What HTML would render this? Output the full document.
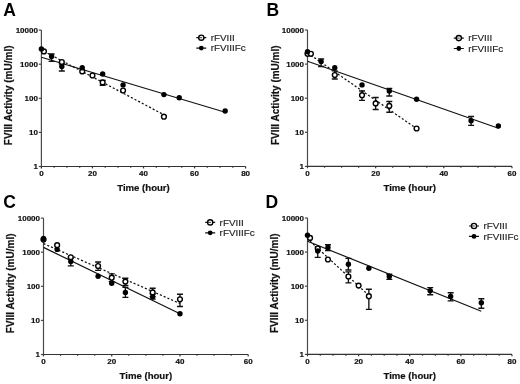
<!DOCTYPE html>
<html><head><meta charset="utf-8"><style>
html,body{margin:0;padding:0;background:#fff;width:520px;height:384px;overflow:hidden}
svg{display:block;filter:blur(0.3px)}
text{font-family:"Liberation Sans",sans-serif;fill:#111}
.pl{font-size:17.5px;font-weight:bold;fill:#000}
.tk{font-size:8.0px;font-weight:bold;stroke:#111;stroke-width:0.2px}
.tt{font-size:9.6px;font-weight:bold;stroke:#111;stroke-width:0.2px}
.at{font-size:10px;font-weight:bold;stroke:#111;stroke-width:0.2px}
.lg{font-size:9.9px;fill:#222;stroke:#222;stroke-width:0.15px}
.ax{stroke:#333;stroke-width:1.2;fill:none}
.ay{stroke:#4a4a4a;stroke-width:1.2;fill:none}
.ln{stroke:#111;stroke-width:1.2;fill:none}
.dl{stroke:#111;stroke-width:1.25;fill:none;stroke-dasharray:2.1 2.0}
.eb{stroke:#111;stroke-width:1.35;fill:none}
.op{fill:#fff;stroke:#000;stroke-width:1.4}
.fl{fill:#000}
</style></head><body>
<svg width="520" height="384" viewBox="0 0 520 384">
<text x="3.3" y="15.5" class="pl">A</text>
<path d="M41.4 30.10V166.5" class="ay"/>
<path d="M40.8 166.5H245.6" class="ax"/>
<path d="M38.8 166.50H41.4" class="ay"/>
<text x="37.9" y="169.40" class="tk" text-anchor="end">1</text>
<path d="M38.8 132.40H41.4" class="ay"/>
<text x="37.9" y="135.30" class="tk" text-anchor="end">10</text>
<path d="M38.8 98.30H41.4" class="ay"/>
<text x="37.9" y="101.20" class="tk" text-anchor="end">100</text>
<path d="M38.8 64.20H41.4" class="ay"/>
<text x="37.9" y="67.10" class="tk" text-anchor="end">1000</text>
<path d="M38.8 30.10H41.4" class="ay"/>
<text x="37.9" y="33.00" class="tk" text-anchor="end">10000</text>
<path d="M41.40 166.5v1.9" class="ax"/>
<text x="41.40" y="176.40" class="tk" text-anchor="middle">0</text>
<path d="M54.16 166.5v1.3" class="ax"/>
<path d="M66.92 166.5v1.3" class="ax"/>
<path d="M79.69 166.5v1.3" class="ax"/>
<path d="M92.45 166.5v1.9" class="ax"/>
<text x="92.45" y="176.40" class="tk" text-anchor="middle">20</text>
<path d="M105.21 166.5v1.3" class="ax"/>
<path d="M117.97 166.5v1.3" class="ax"/>
<path d="M130.74 166.5v1.3" class="ax"/>
<path d="M143.50 166.5v1.9" class="ax"/>
<text x="143.50" y="176.40" class="tk" text-anchor="middle">40</text>
<path d="M156.26 166.5v1.3" class="ax"/>
<path d="M169.02 166.5v1.3" class="ax"/>
<path d="M181.79 166.5v1.3" class="ax"/>
<path d="M194.55 166.5v1.9" class="ax"/>
<text x="194.55" y="176.40" class="tk" text-anchor="middle">60</text>
<path d="M207.31 166.5v1.3" class="ax"/>
<path d="M220.07 166.5v1.3" class="ax"/>
<path d="M232.84 166.5v1.3" class="ax"/>
<path d="M245.60 166.5v1.9" class="ax"/>
<text x="245.60" y="176.40" class="tk" text-anchor="middle">80</text>
<text x="143.50" y="190.70" class="tt" text-anchor="middle">Time (hour)</text>
<text transform="translate(12.3 95.30) rotate(-90)" class="at" text-anchor="middle">FVIII Activity (mU/ml)</text>
<path d="M196.3 37.7h10M196.3 48.1h10" class="ln"/>
<circle cx="201.3" cy="37.7" r="2.6" class="op"/>
<path d="M199.3 37.7h2.8" stroke="#222" stroke-width="0.9"/>
<circle cx="201.3" cy="48.1" r="2.4000000000000004" class="fl"/>
<text x="210.70000000000002" y="40.800000000000004" class="lg">rFVIII</text>
<text x="210.70000000000002" y="51.2" class="lg">rFVIIIFc</text>
<path d="M41.4 57.3L225.18 112.2" class="ln"/>
<path d="M43.95 51.3L163.92 114.8" class="dl"/>
<path d="M51.61 54V61.4M48.61 54h6.0M48.61 61.4h6.0" class="eb"/>
<path d="M61.82 64V71M58.82 64h6.0M58.82 71h6.0" class="eb"/>
<path d="M102.66 80.3V85.2M99.66 80.3h6.0M99.66 85.2h6.0" class="eb"/>
<circle cx="43.95" cy="51.4" r="2.4" class="op"/>
<circle cx="61.82" cy="62.0" r="2.4" class="op"/>
<circle cx="82.24" cy="71.4" r="2.4" class="op"/>
<circle cx="92.45" cy="75.5" r="2.4" class="op"/>
<circle cx="102.66" cy="82.4" r="2.4" class="op"/>
<circle cx="123.08" cy="90.5" r="2.4" class="op"/>
<circle cx="163.92" cy="116.7" r="2.4" class="op"/>
<circle cx="41.4" cy="48.9" r="2.7" class="fl"/>
<circle cx="51.61" cy="56.4" r="2.7" class="fl"/>
<circle cx="61.82" cy="66.5" r="2.7" class="fl"/>
<circle cx="82.24" cy="67.8" r="2.7" class="fl"/>
<circle cx="102.66" cy="74.0" r="2.7" class="fl"/>
<circle cx="123.08" cy="84.9" r="2.7" class="fl"/>
<circle cx="163.92" cy="94.6" r="2.7" class="fl"/>
<circle cx="179.23" cy="97.8" r="2.7" class="fl"/>
<circle cx="225.18" cy="111.0" r="2.7" class="fl"/>
<text x="266.5" y="15.6" class="pl">B</text>
<path d="M307.5 30.00V166.4" class="ay"/>
<path d="M306.9 166.4H512.0" class="ax"/>
<path d="M304.9 166.40H307.5" class="ay"/>
<text x="304.0" y="169.30" class="tk" text-anchor="end">1</text>
<path d="M304.9 132.30H307.5" class="ay"/>
<text x="304.0" y="135.20" class="tk" text-anchor="end">10</text>
<path d="M304.9 98.20H307.5" class="ay"/>
<text x="304.0" y="101.10" class="tk" text-anchor="end">100</text>
<path d="M304.9 64.10H307.5" class="ay"/>
<text x="304.0" y="67.00" class="tk" text-anchor="end">1000</text>
<path d="M304.9 30.00H307.5" class="ay"/>
<text x="304.0" y="32.90" class="tk" text-anchor="end">10000</text>
<path d="M307.50 166.4v1.9" class="ax"/>
<text x="307.50" y="176.30" class="tk" text-anchor="middle">0</text>
<path d="M324.54 166.4v1.3" class="ax"/>
<path d="M341.58 166.4v1.3" class="ax"/>
<path d="M358.62 166.4v1.3" class="ax"/>
<path d="M375.67 166.4v1.9" class="ax"/>
<text x="375.67" y="176.30" class="tk" text-anchor="middle">20</text>
<path d="M392.71 166.4v1.3" class="ax"/>
<path d="M409.75 166.4v1.3" class="ax"/>
<path d="M426.79 166.4v1.3" class="ax"/>
<path d="M443.83 166.4v1.9" class="ax"/>
<text x="443.83" y="176.30" class="tk" text-anchor="middle">40</text>
<path d="M460.88 166.4v1.3" class="ax"/>
<path d="M477.92 166.4v1.3" class="ax"/>
<path d="M494.96 166.4v1.3" class="ax"/>
<path d="M512.00 166.4v1.9" class="ax"/>
<text x="512.00" y="176.30" class="tk" text-anchor="middle">60</text>
<text x="409.75" y="190.60" class="tt" text-anchor="middle">Time (hour)</text>
<text transform="translate(278.5 95.20) rotate(-90)" class="at" text-anchor="middle">FVIII Activity (mU/ml)</text>
<path d="M453.8 38.1h10M453.8 48.5h10" class="ln"/>
<circle cx="458.8" cy="38.1" r="2.6" class="op"/>
<path d="M456.8 38.1h2.8" stroke="#222" stroke-width="0.9"/>
<circle cx="458.8" cy="48.5" r="2.4000000000000004" class="fl"/>
<text x="468.2" y="41.2" class="lg">rFVIII</text>
<text x="468.2" y="51.6" class="lg">rFVIIIFc</text>
<path d="M307.5 61.3L498.37 128.3" class="ln"/>
<path d="M310.91 55.3L416.57 128.6" class="dl"/>
<path d="M321.13 59V66.5M318.13 59h6.0M318.13 66.5h6.0" class="eb"/>
<path d="M389.3 88.3V96M386.3 88.3h6.0M386.3 96h6.0" class="eb"/>
<path d="M471.1 116.5V125.4M468.1 116.5h6.0M468.1 125.4h6.0" class="eb"/>
<path d="M334.77 70.8V79M331.77 70.8h6.0M331.77 79h6.0" class="eb"/>
<path d="M362.03 91V100.4M359.03 91h6.0M359.03 100.4h6.0" class="eb"/>
<path d="M375.67 97.5V109.5M372.67 97.5h6.0M372.67 109.5h6.0" class="eb"/>
<path d="M389.3 101.5V112.2M386.3 101.5h6.0M386.3 112.2h6.0" class="eb"/>
<circle cx="307.5" cy="53.8" r="2.4" class="op"/>
<circle cx="310.91" cy="53.8" r="2.4" class="op"/>
<circle cx="334.77" cy="75" r="2.4" class="op"/>
<circle cx="362.03" cy="95.2" r="2.4" class="op"/>
<circle cx="375.67" cy="103.4" r="2.4" class="op"/>
<circle cx="389.3" cy="105.9" r="2.4" class="op"/>
<circle cx="416.57" cy="128.5" r="2.4" class="op"/>
<circle cx="307.5" cy="51.7" r="2.7" class="fl"/>
<circle cx="321.13" cy="61.6" r="2.7" class="fl"/>
<circle cx="334.77" cy="67.8" r="2.7" class="fl"/>
<circle cx="362.03" cy="84.9" r="2.7" class="fl"/>
<circle cx="389.3" cy="91" r="2.7" class="fl"/>
<circle cx="416.57" cy="99.2" r="2.7" class="fl"/>
<circle cx="471.1" cy="120.8" r="2.7" class="fl"/>
<circle cx="498.37" cy="126" r="2.7" class="fl"/>
<text x="3.2" y="207.6" class="pl">C</text>
<path d="M43.5 218.10V354.5" class="ay"/>
<path d="M42.9 354.5H248.2" class="ax"/>
<path d="M40.9 354.50H43.5" class="ay"/>
<text x="40.0" y="357.40" class="tk" text-anchor="end">1</text>
<path d="M40.9 320.40H43.5" class="ay"/>
<text x="40.0" y="323.30" class="tk" text-anchor="end">10</text>
<path d="M40.9 286.30H43.5" class="ay"/>
<text x="40.0" y="289.20" class="tk" text-anchor="end">100</text>
<path d="M40.9 252.20H43.5" class="ay"/>
<text x="40.0" y="255.10" class="tk" text-anchor="end">1000</text>
<path d="M40.9 218.10H43.5" class="ay"/>
<text x="40.0" y="221.00" class="tk" text-anchor="end">10000</text>
<path d="M43.50 354.5v1.9" class="ax"/>
<text x="43.50" y="364.40" class="tk" text-anchor="middle">0</text>
<path d="M60.56 354.5v1.3" class="ax"/>
<path d="M77.62 354.5v1.3" class="ax"/>
<path d="M94.67 354.5v1.3" class="ax"/>
<path d="M111.73 354.5v1.9" class="ax"/>
<text x="111.73" y="364.40" class="tk" text-anchor="middle">20</text>
<path d="M128.79 354.5v1.3" class="ax"/>
<path d="M145.85 354.5v1.3" class="ax"/>
<path d="M162.91 354.5v1.3" class="ax"/>
<path d="M179.97 354.5v1.9" class="ax"/>
<text x="179.97" y="364.40" class="tk" text-anchor="middle">40</text>
<path d="M197.03 354.5v1.3" class="ax"/>
<path d="M214.08 354.5v1.3" class="ax"/>
<path d="M231.14 354.5v1.3" class="ax"/>
<path d="M248.20 354.5v1.9" class="ax"/>
<text x="248.20" y="364.40" class="tk" text-anchor="middle">60</text>
<text x="145.85" y="378.70" class="tt" text-anchor="middle">Time (hour)</text>
<text transform="translate(13.6 283.30) rotate(-90)" class="at" text-anchor="middle">FVIII Activity (mU/ml)</text>
<path d="M205.2 222.4h10M205.2 232.8h10" class="ln"/>
<circle cx="210.2" cy="222.4" r="2.6" class="op"/>
<path d="M208.2 222.4h2.8" stroke="#222" stroke-width="0.9"/>
<circle cx="210.2" cy="232.8" r="2.4000000000000004" class="fl"/>
<text x="219.6" y="225.5" class="lg">rFVIII</text>
<text x="219.6" y="235.9" class="lg">rFVIIIFc</text>
<path d="M43.5 247.4L179.97 313.7" class="ln"/>
<path d="M43.5 243.6L179.97 303.5" class="dl"/>
<path d="M70.79 258V265.8M67.79 258h6.0M67.79 265.8h6.0" class="eb"/>
<path d="M125.38 287.3V297.3M122.38 287.3h6.0M122.38 297.3h6.0" class="eb"/>
<path d="M152.67 294V299.1M149.67 294h6.0M149.67 299.1h6.0" class="eb"/>
<path d="M98.09 262V270.3M95.09 262h6.0M95.09 270.3h6.0" class="eb"/>
<path d="M111.73 273.8V281.6M108.73 273.8h6.0M108.73 281.6h6.0" class="eb"/>
<path d="M125.38 278.2V285.5M122.38 278.2h6.0M122.38 285.5h6.0" class="eb"/>
<path d="M152.67 288.2V296.6M149.67 288.2h6.0M149.67 296.6h6.0" class="eb"/>
<path d="M179.97 294.2V306.5M176.97 294.2h6.0M176.97 306.5h6.0" class="eb"/>
<circle cx="43.5" cy="239.6" r="2.4" class="op"/>
<circle cx="57.15" cy="245.2" r="2.4" class="op"/>
<circle cx="70.79" cy="257.3" r="2.4" class="op"/>
<circle cx="98.09" cy="266" r="2.4" class="op"/>
<circle cx="111.73" cy="277.7" r="2.4" class="op"/>
<circle cx="125.38" cy="281.6" r="2.4" class="op"/>
<circle cx="152.67" cy="292.4" r="2.4" class="op"/>
<circle cx="179.97" cy="299.3" r="2.4" class="op"/>
<circle cx="43.5" cy="238.4" r="2.7" class="fl"/>
<circle cx="57.15" cy="249.4" r="2.7" class="fl"/>
<circle cx="70.79" cy="261.5" r="2.7" class="fl"/>
<circle cx="98.09" cy="276.2" r="2.7" class="fl"/>
<circle cx="111.73" cy="283.2" r="2.7" class="fl"/>
<circle cx="125.38" cy="292.4" r="2.7" class="fl"/>
<circle cx="152.67" cy="296.8" r="2.7" class="fl"/>
<circle cx="179.97" cy="313.7" r="2.7" class="fl"/>
<text x="265.6" y="207.6" class="pl">D</text>
<path d="M307.5 218.00V354.4" class="ay"/>
<path d="M306.9 354.4H512.0" class="ax"/>
<path d="M304.9 354.40H307.5" class="ay"/>
<text x="304.0" y="357.30" class="tk" text-anchor="end">1</text>
<path d="M304.9 320.30H307.5" class="ay"/>
<text x="304.0" y="323.20" class="tk" text-anchor="end">10</text>
<path d="M304.9 286.20H307.5" class="ay"/>
<text x="304.0" y="289.10" class="tk" text-anchor="end">100</text>
<path d="M304.9 252.10H307.5" class="ay"/>
<text x="304.0" y="255.00" class="tk" text-anchor="end">1000</text>
<path d="M304.9 218.00H307.5" class="ay"/>
<text x="304.0" y="220.90" class="tk" text-anchor="end">10000</text>
<path d="M307.50 354.4v1.9" class="ax"/>
<text x="307.50" y="364.30" class="tk" text-anchor="middle">0</text>
<path d="M320.28 354.4v1.3" class="ax"/>
<path d="M333.06 354.4v1.3" class="ax"/>
<path d="M345.84 354.4v1.3" class="ax"/>
<path d="M358.62 354.4v1.9" class="ax"/>
<text x="358.62" y="364.30" class="tk" text-anchor="middle">20</text>
<path d="M371.41 354.4v1.3" class="ax"/>
<path d="M384.19 354.4v1.3" class="ax"/>
<path d="M396.97 354.4v1.3" class="ax"/>
<path d="M409.75 354.4v1.9" class="ax"/>
<text x="409.75" y="364.30" class="tk" text-anchor="middle">40</text>
<path d="M422.53 354.4v1.3" class="ax"/>
<path d="M435.31 354.4v1.3" class="ax"/>
<path d="M448.09 354.4v1.3" class="ax"/>
<path d="M460.88 354.4v1.9" class="ax"/>
<text x="460.88" y="364.30" class="tk" text-anchor="middle">60</text>
<path d="M473.66 354.4v1.3" class="ax"/>
<path d="M486.44 354.4v1.3" class="ax"/>
<path d="M499.22 354.4v1.3" class="ax"/>
<path d="M512.00 354.4v1.9" class="ax"/>
<text x="512.00" y="364.30" class="tk" text-anchor="middle">80</text>
<text x="409.75" y="378.60" class="tt" text-anchor="middle">Time (hour)</text>
<text transform="translate(278.3 283.20) rotate(-90)" class="at" text-anchor="middle">FVIII Activity (mU/ml)</text>
<path d="M469.0 226.0h10M469.0 236.4h10" class="ln"/>
<circle cx="474.0" cy="226.0" r="2.6" class="op"/>
<path d="M472.0 226.0h2.8" stroke="#222" stroke-width="0.9"/>
<circle cx="474.0" cy="236.4" r="2.4000000000000004" class="fl"/>
<text x="483.4" y="229.1" class="lg">rFVIII</text>
<text x="483.4" y="239.5" class="lg">rFVIIIFc</text>
<path d="M307.5 241.2L481.32 311.2" class="ln"/>
<path d="M310.06 241.2L368.85 295.4" class="dl"/>
<path d="M317.73 246.9V257.3M314.73 246.9h6.0M314.73 257.3h6.0" class="eb"/>
<path d="M327.95 244.7V250.5M324.95 244.7h6.0M324.95 250.5h6.0" class="eb"/>
<path d="M348.4 258.4V270M345.4 258.4h6.0M345.4 270h6.0" class="eb"/>
<path d="M389.3 274.2V279.4M386.3 274.2h6.0M386.3 279.4h6.0" class="eb"/>
<path d="M430.2 287.6V294.7M427.2 287.6h6.0M427.2 294.7h6.0" class="eb"/>
<path d="M450.65 292.7V300.9M447.65 292.7h6.0M447.65 300.9h6.0" class="eb"/>
<path d="M481.32 298.7V308.2M478.32 298.7h6.0M478.32 308.2h6.0" class="eb"/>
<path d="M348.4 271.9V282.8M345.4 271.9h6.0M345.4 282.8h6.0" class="eb"/>
<path d="M368.85 289.2V309.3M365.85 289.2h6.0M365.85 309.3h6.0" class="eb"/>
<circle cx="310.06" cy="237.9" r="2.4" class="op"/>
<circle cx="317.73" cy="248.5" r="2.4" class="op"/>
<circle cx="327.95" cy="259.5" r="2.4" class="op"/>
<circle cx="348.4" cy="276.5" r="2.4" class="op"/>
<circle cx="358.62" cy="285.6" r="2.4" class="op"/>
<circle cx="368.85" cy="296.2" r="2.4" class="op"/>
<circle cx="307.5" cy="235.3" r="2.7" class="fl"/>
<circle cx="317.73" cy="251" r="2.7" class="fl"/>
<circle cx="327.95" cy="247.5" r="2.7" class="fl"/>
<circle cx="348.4" cy="264.2" r="2.7" class="fl"/>
<circle cx="368.85" cy="268.2" r="2.7" class="fl"/>
<circle cx="389.3" cy="276.5" r="2.7" class="fl"/>
<circle cx="430.2" cy="290.7" r="2.7" class="fl"/>
<circle cx="450.65" cy="296.5" r="2.7" class="fl"/>
<circle cx="481.32" cy="302.7" r="2.7" class="fl"/>
</svg>
</body></html>
